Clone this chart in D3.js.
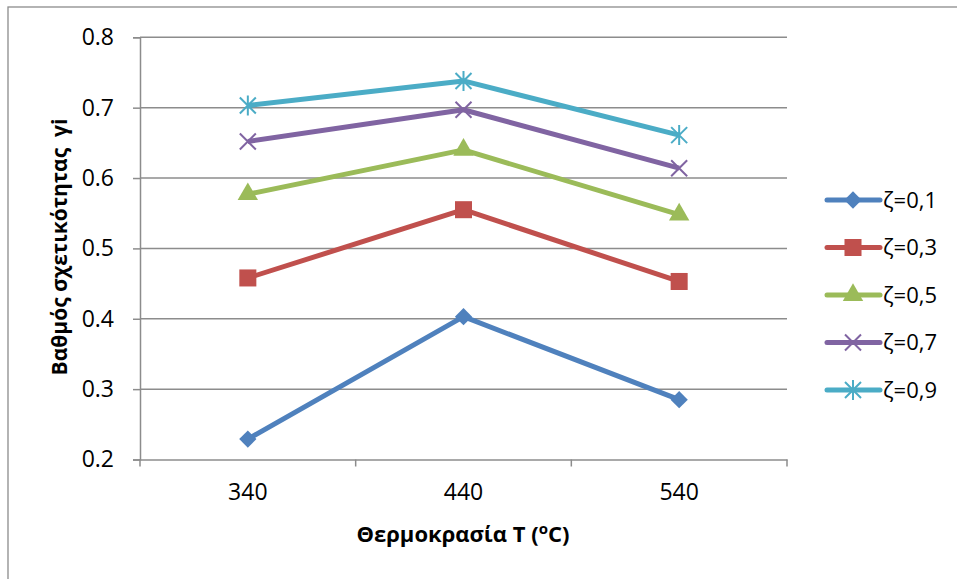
<!DOCTYPE html>
<html>
<head>
<meta charset="utf-8">
<script src="https://cdn.jsdelivr.net/npm/d3@7"></script>
<style>
  body { margin: 0; background: #fff; }
  svg { display: block; font-family: "Open Sans", sans-serif; }
</style>
</head>
<body>
<div id="chart"></div>
<script>
// data
var temps = ["340", "440", "540"];
var seriesNames = ["ζ=0,1", "ζ=0,3", "ζ=0,5", "ζ=0,7", "ζ=0,9"];
var z01 = [0.229, 0.403, 0.285];
var z03 = [0.458, 0.555, 0.453];
var z05 = [0.577, 0.640, 0.548];
var z07 = [0.652, 0.697, 0.614];
var z09 = [0.703, 0.738, 0.661];
var yTicks = [0.2, 0.3, 0.4, 0.5, 0.6, 0.7, 0.8];

var colors = ["#4F81BD", "#C0504D", "#9BBB59", "#8064A2", "#4BACC6"];
var markers = ["diamond", "square", "triangle", "x", "star"];
var allSeries = [z01, z03, z05, z07, z09];

var width = 957, height = 579;
var plot = { left: 140, right: 787, top: 37.3, bottom: 459.5 };

var svg = d3.select("#chart").append("svg")
  .attr("width", width).attr("height", height);

// chart frame (only left/top edges visible in the crop)
svg.append("rect")
  .attr("x", 8).attr("y", 7).attr("width", 1000).attr("height", 1000)
  .attr("fill", "none").attr("stroke", "#8c8c8c").attr("stroke-width", 1.3);

var x = d3.scaleBand().domain(temps).range([plot.left, plot.right]);
var y = d3.scaleLinear().domain([0.2, 0.8]).range([plot.bottom, plot.top]);

// gridlines
svg.append("g").selectAll("line")
  .data(yTicks.slice(1))
  .enter().append("line")
    .attr("x1", plot.left).attr("x2", plot.right)
    .attr("y1", function (d) { return y(d); })
    .attr("y2", function (d) { return y(d); })
    .attr("stroke", "#8c8c8c").attr("stroke-width", 1.5);

// y axis
var yAxis = svg.append("g")
  .attr("transform", "translate(" + plot.left + ",0)")
  .call(d3.axisLeft(y).tickValues(yTicks).tickFormat(d3.format(".1f")).tickSizeOuter(0).tickSize(7).tickPadding(19));
yAxis.select(".domain").attr("stroke", "#8c8c8c").attr("stroke-width", 1.5);
yAxis.selectAll(".tick line").attr("stroke", "#8c8c8c").attr("stroke-width", 1.5);
yAxis.selectAll(".tick text")
  .attr("fill", "#000").style("font-size", "23px").style("font-family", "Open Sans");

// x axis: ticks between categories
var xAxis = svg.append("g")
  .attr("transform", "translate(0," + plot.bottom + ")")
  .call(d3.axisBottom(x).tickSize(0).tickPadding(24));
xAxis.select(".domain").attr("stroke", "#8c8c8c").attr("stroke-width", 1.5);
xAxis.selectAll(".tick text")
  .attr("fill", "#000").style("font-size", "23px").style("font-family", "Open Sans");
var bounds = temps.map(function (t) { return x(t); }).concat([plot.right]);
xAxis.selectAll("line.sep")
  .data(bounds)
  .enter().append("line")
    .attr("class", "sep")
    .attr("x1", function (d) { return d; }).attr("x2", function (d) { return d; })
    .attr("y1", 0).attr("y2", 7)
    .attr("stroke", "#8c8c8c").attr("stroke-width", 1.5);

// axis titles
var xt = svg.append("text")
  .attr("x", 463).attr("y", 542)
  .attr("text-anchor", "middle")
  .style("font-weight", "bold").style("font-size", "22px");
xt.append("tspan").text("Θερμοκρασία T (");
xt.append("tspan").text("o").attr("dy", -8).style("font-size", "15px");
xt.append("tspan").text("C)").attr("dy", 8);

svg.append("text")
  .attr("transform", "translate(67,247) rotate(-90)")
  .attr("text-anchor", "middle")
  .style("font-weight", "bold").style("font-size", "21px")
  .style("white-space", "pre")
  .text("Βαθμός σχετικότητας  γi");

function markerPath(type) {
  if (type === "diamond") return d3.symbol().type(d3.symbolDiamond2).size(190)();
  if (type === "square") return d3.symbol().type(d3.symbolSquare).size(290)();
  if (type === "triangle") return d3.symbol().type(d3.symbolTriangle).size(180)();
  if (type === "x") return "M-8,-8L8,8M-8,8L8,-8";
  return "M-8,-8L8,8M-8,8L8,-8M0,-10L0,10";
}

function drawMarker(g, type, color) {
  var p = g.append("path").attr("d", markerPath(type));
  if (type === "x" || type === "star") {
    p.attr("fill", "none").attr("stroke", color).attr("stroke-width", 2);
  } else {
    p.attr("fill", color);
  }
}

var line = d3.line()
  .x(function (d, i) { return x(temps[i]) + x.bandwidth() / 2; })
  .y(function (d) { return y(d); });

allSeries.forEach(function (vals, s) {
  var g = svg.append("g");
  g.append("path")
    .datum(vals)
    .attr("d", line)
    .attr("fill", "none")
    .attr("stroke", colors[s])
    .attr("stroke-width", 5)
    .attr("stroke-linejoin", "round");
  vals.forEach(function (v, i) {
    var m = g.append("g")
      .attr("transform", "translate(" + (x(temps[i]) + x.bandwidth() / 2) + "," + y(v) + ")");
    drawMarker(m, markers[s], colors[s]);
  });
});

// legend
var legend = svg.append("g");
seriesNames.forEach(function (name, s) {
  var ly = 200 + s * 47.5;
  legend.append("line")
    .attr("x1", 827).attr("x2", 880).attr("y1", ly).attr("y2", ly)
    .attr("stroke", colors[s]).attr("stroke-width", 5).attr("stroke-linecap", "round");
  var m = legend.append("g").attr("transform", "translate(853," + ly + ")");
  drawMarker(m, markers[s], colors[s]);
  legend.append("text")
    .attr("x", 883).attr("y", ly).attr("dy", "0.36em")
    .style("font-size", "22px")
    .text(name);
});
</script>
</body>
</html>
